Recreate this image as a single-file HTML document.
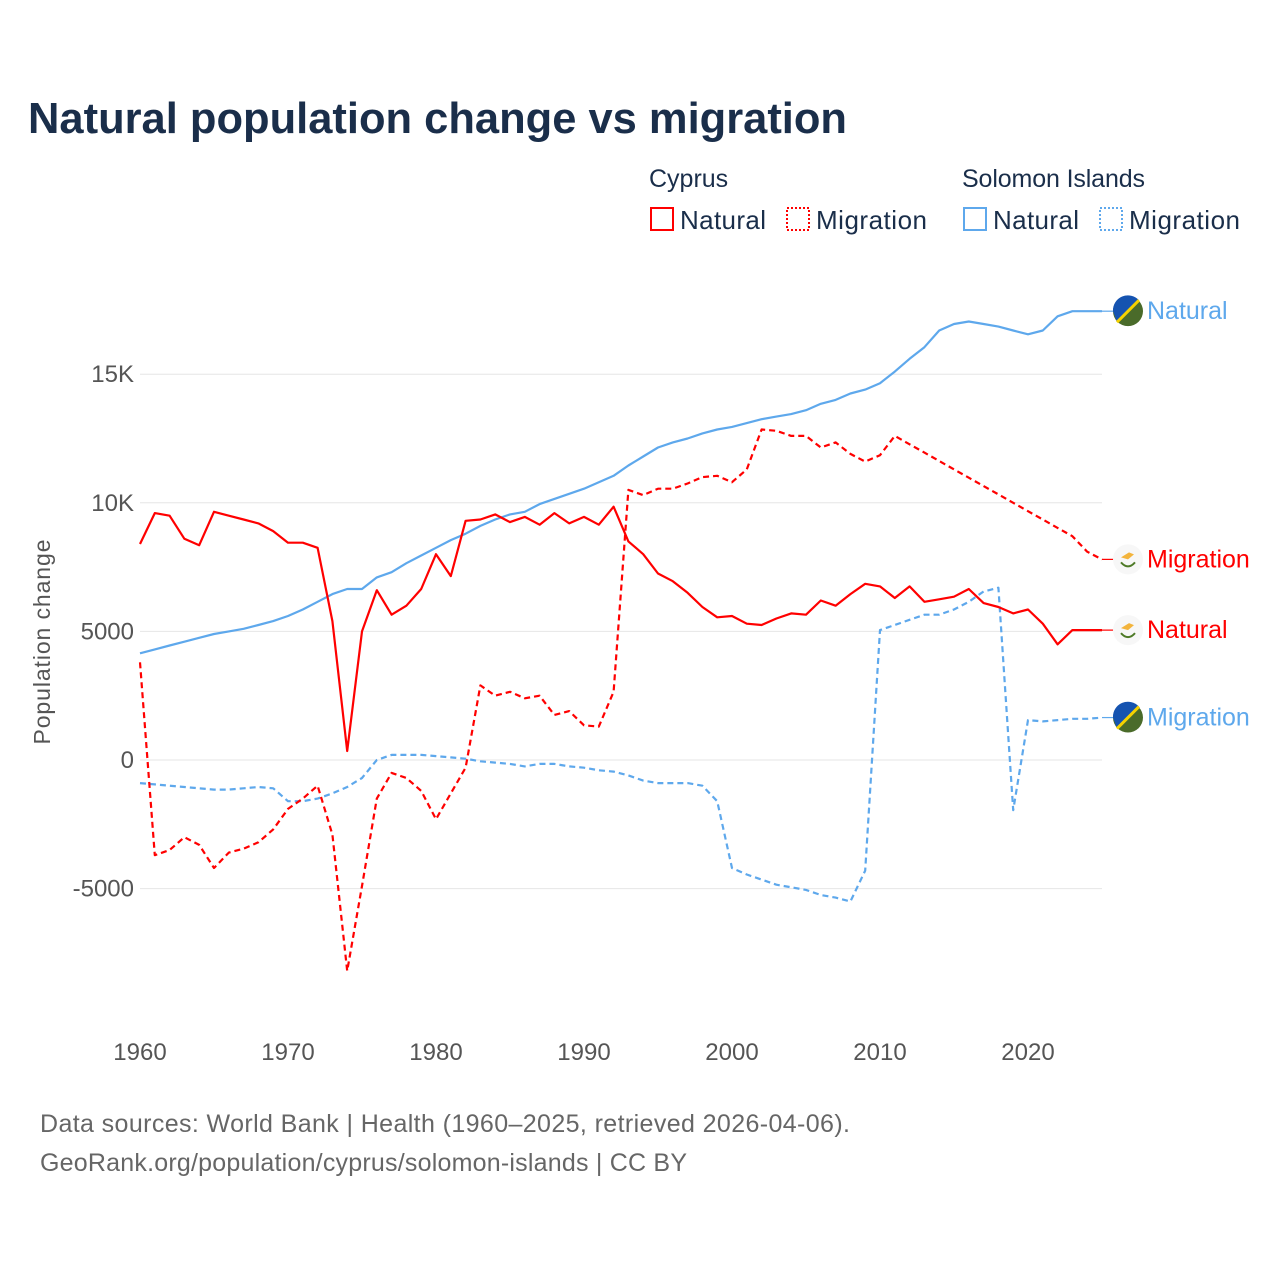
<!DOCTYPE html>
<html><head><meta charset="utf-8">
<style>
body{margin:0;background:#fff;font-family:"Liberation Sans",sans-serif;}
svg text{font-family:"Liberation Sans",sans-serif;}
</style></head>
<body>
<svg id="chart" width="1280" height="1280" viewBox="0 0 1280 1280" xmlns="http://www.w3.org/2000/svg">
<rect width="1280" height="1280" fill="#fff"/>
<text x="28" y="133" font-size="44" font-weight="bold" fill="#1a2e4a" textLength="819" lengthAdjust="spacingAndGlyphs">Natural population change vs migration</text>
<g>
<text x="649" y="187" font-size="25" fill="#1a2e4a">Cyprus</text>
<text x="962" y="187" font-size="25" fill="#1a2e4a" textLength="183">Solomon Islands</text>
<g><rect x="651" y="208" width="22" height="22" fill="none" stroke="#f00" stroke-width="2"/><text x="680" y="229" font-size="26" fill="#1a2e4a" textLength="86">Natural</text></g>
<g><rect x="787" y="208" width="22" height="22" fill="none" stroke="#f00" stroke-width="2" stroke-dasharray="2,2"/><text x="816" y="229" font-size="26" fill="#1a2e4a" textLength="111">Migration</text></g>
<g><rect x="964" y="208" width="22" height="22" fill="none" stroke="#5ea8ec" stroke-width="2"/><text x="993" y="229" font-size="26" fill="#1a2e4a" textLength="86">Natural</text></g>
<g><rect x="1100" y="208" width="22" height="22" fill="none" stroke="#5ea8ec" stroke-width="2" stroke-dasharray="2,2"/><text x="1129" y="229" font-size="26" fill="#1a2e4a" textLength="111">Migration</text></g>
</g>
<g id="grid"></g>
<g id="axes"></g>
<g id="series"></g>
<g id="labels"></g>
<text transform="translate(50,642) rotate(-90)" text-anchor="middle" font-size="23" fill="#555" textLength="205">Population change</text>
<text x="40" y="1132" font-size="25" fill="#666" textLength="810">Data sources: World Bank | Health (1960–2025, retrieved 2026-04-06).</text>
<text x="40" y="1171" font-size="25" fill="#666" textLength="647">GeoRank.org/population/cyprus/solomon-islands | CC BY</text>
</svg>
<script>
const years = Array.from({length:66},(_,i)=>1960+i);
const cyNatural=[8400,9600,9500,8600,8350,9650,9500,9350,9200,8900,8450,8450,8250,5400,350,5000,6600,5650,6000,6650,8000,7150,9300,9350,9550,9250,9450,9150,9600,9200,9450,9150,9850,8500,8000,7250,6950,6500,5950,5550,5600,5300,5250,5500,5700,5650,6200,6000,6450,6850,6750,6300,6750,6150,6250,6350,6650,6100,5950,5700,5850,5300,4500,5050,5050,5050];
const cyMigration=[3800,-3700,-3500,-3000,-3300,-4200,-3600,-3450,-3200,-2700,-1900,-1500,-1000,-2900,-8200,-4900,-1500,-500,-700,-1200,-2300,-1300,-300,2900,2500,2650,2400,2500,1750,1900,1350,1300,2650,10500,10300,10550,10550,10750,11000,11050,10800,11300,12850,12800,12600,12600,12150,12350,11900,11600,11850,12600,12275,11950,11625,11300,10975,10650,10325,10000,9675,9350,9025,8700,8100,7800];
const sbNatural=[4150,4300,4450,4600,4750,4900,5000,5100,5250,5400,5600,5850,6150,6450,6650,6650,7100,7300,7650,7950,8250,8550,8800,9100,9350,9550,9650,9950,10150,10350,10550,10800,11050,11450,11800,12150,12350,12500,12700,12850,12950,13100,13250,13350,13450,13600,13850,14000,14250,14400,14650,15100,15600,16050,16700,16950,17050,16950,16850,16700,16550,16700,17250,17450,17450,17450];
const sbMigration=[-900,-950,-1000,-1050,-1100,-1150,-1150,-1100,-1050,-1100,-1600,-1600,-1500,-1300,-1050,-700,0,200,200,200,150,100,50,-50,-100,-150,-250,-150,-150,-250,-300,-400,-450,-600,-800,-900,-900,-900,-1000,-1600,-4200,-4450,-4650,-4850,-4950,-5050,-5250,-5350,-5500,-4300,5050,5250,5450,5650,5650,5850,6150,6550,6700,-1950,1550,1500,1550,1600,1600,1650];
const yTicks=[-5000,0,5000,10000,15000];
const yTickLabels=["-5000","0","5000","10K","15K"];
const xTicks=[1960,1970,1980,1990,2000,2010,2020];

const X=y=>140+(y-1960)*14.8;
const Y=v=>760-v*128.6/5000;
const NS="http://www.w3.org/2000/svg";
function mk(tag,attrs,parent){const e=document.createElementNS(NS,tag);for(const k in attrs)e.setAttribute(k,attrs[k]);parent.appendChild(e);return e;}
const grid=document.getElementById('grid'),axes=document.getElementById('axes'),series=document.getElementById('series'),labels=document.getElementById('labels');
yTicks.forEach((t,i)=>{
  const l=mk('line',{x1:140,x2:1102,y1:Y(t),y2:Y(t),stroke:'#e6e6e6','stroke-width':1},grid);
  
  
  const tx=mk('text',{x:134,y:Y(t)+8,'text-anchor':'end','font-size':24,fill:'#555'},axes);
  tx.textContent=yTickLabels[i];
  
  
});
xTicks.forEach(t=>{
  const tx=mk('text',{x:X(t),y:1060,'text-anchor':'middle','font-size':24,fill:'#555'},axes);
  tx.textContent=t;
  
  
});
function line(vals,color,dash,name){
  const d=vals.map((v,i)=>(i?'L':'M')+X(years[i]).toFixed(1)+','+Y(v).toFixed(1)).join('');
  const p=mk('path',{d:d,fill:'none',stroke:color,'stroke-width':2.2,'stroke-linejoin':'round'},series);
  if(dash)p.setAttribute('stroke-dasharray','6,4');
  
  
}
line(sbMigration,'#5ea8ec',true,'line-solomon-migration');
line(sbNatural,'#5ea8ec',false,'line-solomon-natural');
line(cyMigration,'#f00',true,'line-cyprus-migration');
line(cyNatural,'#f00',false,'line-cyprus-natural');
function endLabel(vals,color,text,flag,name){
  const v=vals[vals.length-1],y=Y(v);
  mk('line',{x1:1102,x2:1114,y1:y,y2:y,stroke:color,'stroke-width':1.2},labels);
  const g=mk('g',{},labels);
  
  
  if(flag==='sb'){
    mk('circle',{cx:1128,cy:y,r:15,fill:'#4a6b2a'},g);
    mk('path',{d:`M${1113},${y} A15,15 0 0 1 ${1139},${y-11} L${1117},${y+11} Z`,fill:'#1553b0'},g);
    mk('line',{x1:1117,y1:y+11,x2:1139,y2:y-11,stroke:'#f5d200','stroke-width':3},g);
  }else{
    mk('circle',{cx:1128,cy:y,r:15,fill:'#f7f7f7'},g);
    mk('path',{d:`M${1121},${y-2} l8,-5 l5,2 l-6,5 z`,fill:'#f3b43c'},g);
    mk('path',{d:`M${1121},${y+3} q7,8 14,0`,fill:'none',stroke:'#4e7a27','stroke-width':2},g);
  }
  const t=mk('text',{x:1147,y:y+8,'font-size':25,fill:color},g);
  t.textContent=text;
}
endLabel(sbNatural,'#5ea8ec','Natural','sb','end-label-solomon-natural');
endLabel(cyMigration,'#f00','Migration','cy','end-label-cyprus-migration');
endLabel(cyNatural,'#f00','Natural','cy','end-label-cyprus-natural');
endLabel(sbMigration,'#5ea8ec','Migration','sb','end-label-solomon-migration');
</script>
</body></html>
